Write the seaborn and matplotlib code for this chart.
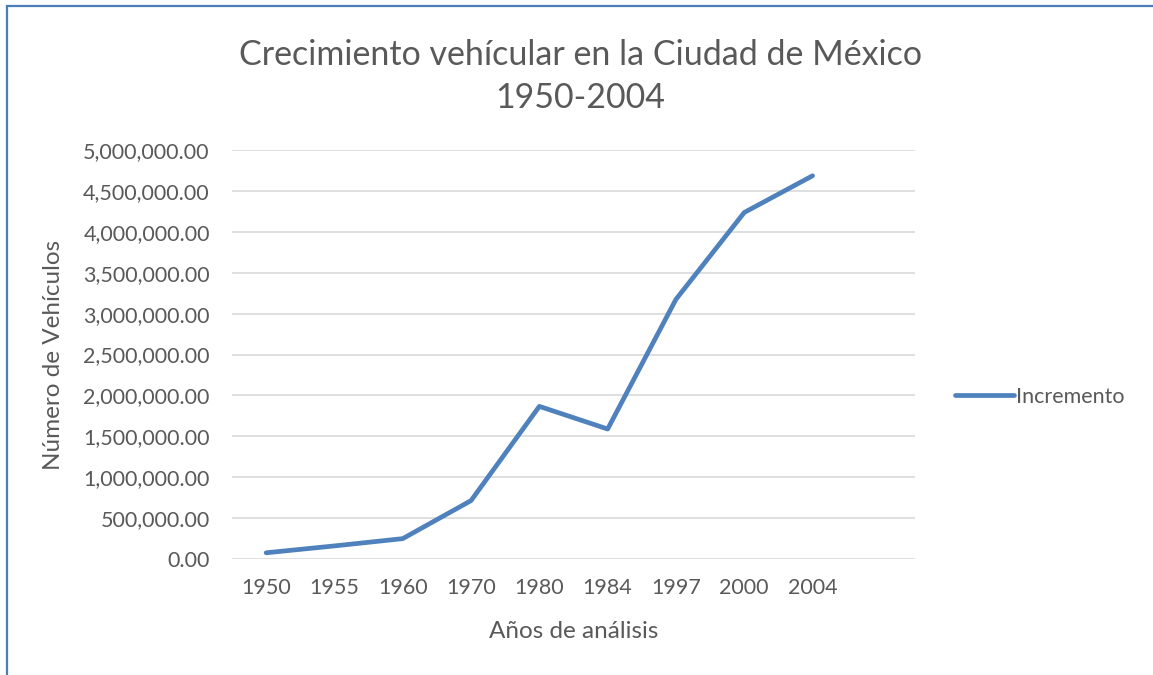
import matplotlib
matplotlib.use("Agg")
import matplotlib.pyplot as plt
import seaborn as sns
import pandas as pd
from matplotlib.patches import Rectangle
from matplotlib.ticker import FuncFormatter

years = ["1950", "1955", "1960", "1970", "1980", "1984", "1997", "2000", "2004"]
vehicles = [76000, 160000, 249000, 714000, 1866000, 1589000, 3174000, 4236000, 4685000]
series_name = "Incremento"

df = pd.DataFrame({"year": years, "vehicles": vehicles, "serie": series_name})

sns.set_theme(style="white")
plt.rcParams["font.family"] = ["Lato", "DejaVu Sans"]
text_color = "#595959"
line_color = "#4f81bd"

fig = plt.figure(figsize=(11.53, 6.75), dpi=100)
ax = fig.add_axes([232 / 1153, 1 - 559 / 675, (915 - 232) / 1153, (559 - 150) / 675])

sns.lineplot(data=df, x="year", y="vehicles", hue="serie", palette=[line_color],
             linewidth=3.4, sort=False, ax=ax, solid_capstyle="round")

ax.set_xlim(-0.5, 9.5)
ax.set_ylim(0, 5000000)
ax.set_yticks(range(0, 5000001, 500000))
ax.yaxis.set_major_formatter(FuncFormatter(lambda v, p: f"{v:,.2f}"))
ax.grid(axis="y", color="#d9d9d9", linewidth=1.2)
ax.set_axisbelow(True)
for s in ax.spines.values():
    s.set_visible(False)
ax.tick_params(axis="both", length=0, labelsize=15.5, colors=text_color)
ax.tick_params(axis="x", pad=14)
ax.tick_params(axis="y", pad=16)

ax.set_xlabel("Años de análisis", fontsize=17.5, color=text_color, labelpad=16)
ax.set_ylabel("Número de Vehículos", fontsize=17.5, color=text_color, labelpad=14)

title_x = 0.5 * (232 + 915) / 1153 + 0.006
fig.text(title_x, 1 - 55 / 675, "Crecimiento vehícular en la Ciudad de México",
         ha="center", va="center", fontsize=24.5, color=text_color)
fig.text(title_x, 1 - 98 / 675, "1950-2004",
         ha="center", va="center", fontsize=24.5, color=text_color)

leg = ax.legend(loc="center left", bbox_to_anchor=(1.03, 0.397), frameon=False,
                fontsize=15.5, handlelength=2.75, handletextpad=0.1, labelcolor=text_color)
for h in leg.get_lines():
    h.set_linewidth(3.4)

fig.patches.append(Rectangle((7 / 1153, -0.05), 1.2, 1 - 6 / 675 + 0.05,
                             transform=fig.transFigure, fill=False,
                             edgecolor="#4a7ebb", linewidth=1.6))

fig.savefig("out.png", dpi=100, facecolor="white")
